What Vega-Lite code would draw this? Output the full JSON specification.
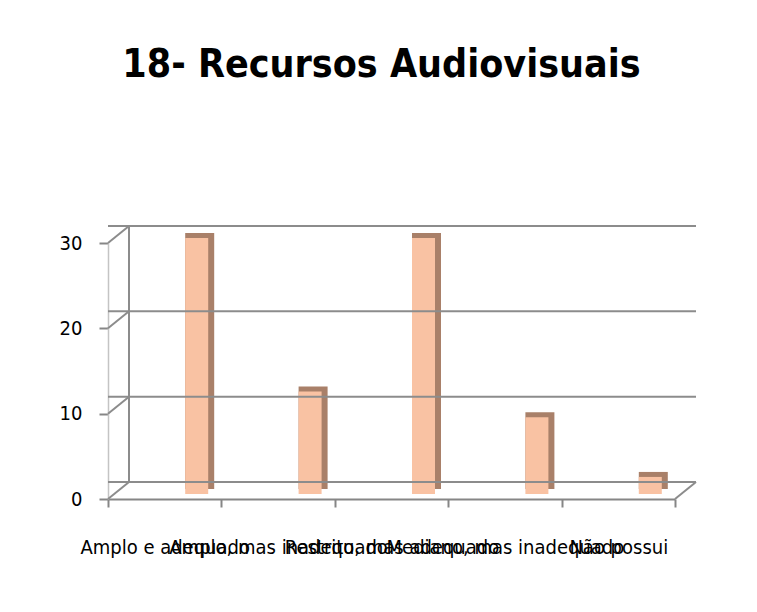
{
  "$schema": "https://vega.github.io/schema/vega-lite/v6.json",
  "width": 567,
  "height": 256,
  "autosize": {"type": "none"},
  "padding": {"left": 108, "top": 243, "right": 82, "bottom": 113},
  "background": "white",
  "config": {
    "view": {"stroke": null},
    "font": "DejaVu Sans Condensed, Liberation Sans, sans-serif"
  },
  "title": {
    "text": "18- Recursos Audiovisuais",
    "fontSize": 39,
    "fontWeight": "bold",
    "font": "DejaVu Sans Condensed, Liberation Sans, sans-serif",
    "color": "#000000",
    "anchor": "middle",
    "offset": 140,
    "dx": -10
  },
  "datasets": {
    "bars": [
      {"cat": "Amplo e adequado", "v": 30},
      {"cat": "Amplo, mas inadequado", "v": 12},
      {"cat": "Restrito, mas adequado", "v": 30},
      {"cat": "Mediano, mas inadequado", "v": 9},
      {"cat": "Não possui", "v": 2}
    ],
    "grid": [{"v": 0}, {"v": 10}, {"v": 20}, {"v": 30}]
  },
  "layer": [
    {
      "data": {"name": "bars"},
      "mark": {"type": "bar", "color": "#a98069", "width": 29, "xOffset": 35, "yOffset": -10, "y2Offset": -4},
      "encoding": {
        "x": {
          "field": "cat", "type": "nominal", "sort": null,
          "scale": {
            "domain": ["Amplo e adequado", "Amplo, mas inadequado", "Restrito, mas adequado", "Mediano, mas inadequado", "Não possui"],
            "paddingInner": 0, "paddingOuter": 0
          },
          "axis": {
            "title": null, "labelAngle": 0, "labelOverlap": false, "labelLimit": 0,
            "tickBand": "extent", "domainColor": "#868686", "domainWidth": 2,
            "tickColor": "#868686", "tickWidth": 2, "tickSize": 8, "labelPadding": 30,
            "labelFontSize": 20, "labelColor": "#000000"
          }
        },
        "y": {
          "field": "v", "type": "quantitative",
          "scale": {"domain": [0, 30], "nice": false},
          "axis": {
            "title": null, "grid": false, "values": [0, 10, 20, 30],
            "domainColor": "#c4c4c4", "domainWidth": 1.5,
            "tickColor": "#868686", "tickWidth": 2, "tickSize": 9,
            "labelFontSize": 20, "labelPadding": 17, "labelColor": "#000000"
          }
        }
      }
    },
    {
      "data": {"name": "bars"},
      "mark": {"type": "bar", "color": "#f9c2a3", "width": 23, "xOffset": 32, "yOffset": -5, "y2Offset": -4},
      "encoding": {
        "x": {"field": "cat", "type": "nominal", "sort": null},
        "y": {"field": "v", "type": "quantitative"}
      }
    },
    {
      "data": {"name": "grid"},
      "mark": {"type": "rule", "color": "#8c8c8c", "strokeWidth": 2, "xOffset": 21, "x2Offset": 21, "yOffset": -17},
      "encoding": {
        "y": {"field": "v", "type": "quantitative"}
      }
    },
    {
      "data": {"name": "grid"},
      "mark": {"type": "rule", "color": "#8c8c8c", "strokeWidth": 2, "x2Offset": 21, "y2Offset": -17},
      "encoding": {
        "x": {"datum": "Amplo e adequado", "bandPosition": 0},
        "x2": {"datum": "Amplo e adequado", "bandPosition": 0},
        "y": {"field": "v", "type": "quantitative"},
        "y2": {"field": "v"}
      }
    },
    {
      "data": {"values": [{}]},
      "mark": {"type": "rule", "color": "#8c8c8c", "strokeWidth": 2, "xOffset": 21, "yOffset": -17, "y2Offset": -17},
      "encoding": {
        "x": {"datum": "Amplo e adequado", "bandPosition": 0},
        "y": {"datum": 0},
        "y2": {"datum": 30}
      }
    },
    {
      "data": {"values": [{}]},
      "mark": {"type": "rule", "color": "#8c8c8c", "strokeWidth": 2, "x2Offset": 21, "y2Offset": -17},
      "encoding": {
        "x": {"datum": "Não possui", "bandPosition": 1},
        "x2": {"datum": "Não possui", "bandPosition": 1},
        "y": {"datum": 0},
        "y2": {"datum": 0}
      }
    }
  ]
}
